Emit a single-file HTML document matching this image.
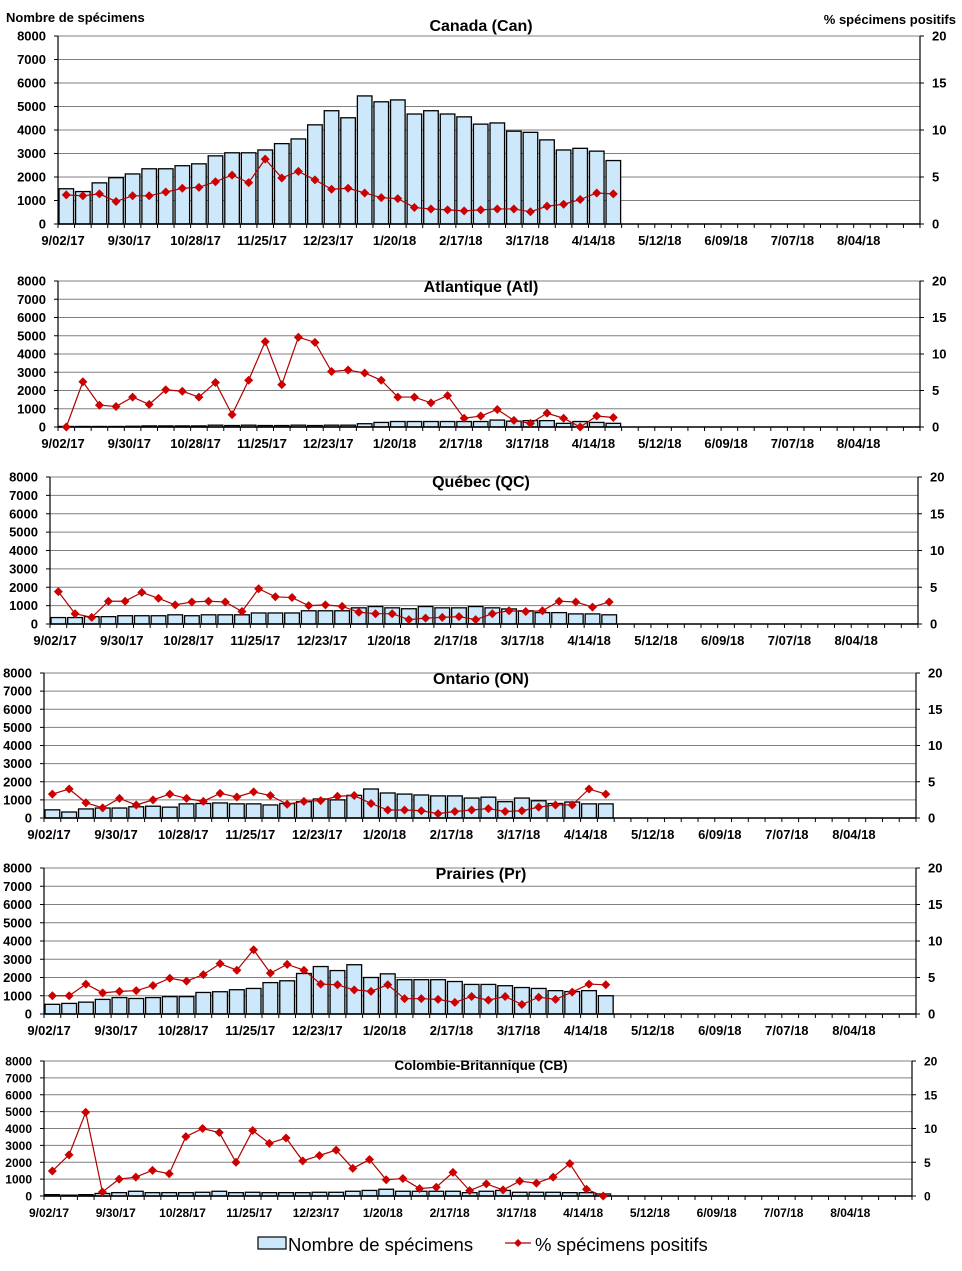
<!DOCTYPE html>
<html><head><meta charset="utf-8"><style>
body{margin:0;background:#fff;}
svg text{font-family:"Liberation Sans",Arial,sans-serif;}
</style></head><body>
<svg id="c" width="962" height="1266" xmlns="http://www.w3.org/2000/svg">
<text x="6" y="22" font-size="13" font-weight="bold">Nombre de spécimens</text>
<text x="956" y="24" font-size="13" font-weight="bold" text-anchor="end">% spécimens positifs</text>
<g>
<rect x="258" y="1237" width="28" height="12" fill="#cce8fa" stroke="#000" stroke-width="1.2"/>
<text x="288" y="1251" font-size="18.5">Nombre de spécimens</text>
<line x1="505" y1="1243" x2="531" y2="1243" stroke="#b00000" stroke-width="1.2"/>
<polygon points="518,1239 522,1243 518,1247 514,1243" fill="#cc0000"/>
<text x="535" y="1251" font-size="18.5">% spécimens positifs</text>
</g>
</svg>
<script>
const weekLabels = ["9/02/17","9/30/17","10/28/17","11/25/17","12/23/17","1/20/18","2/17/18","3/17/18","4/14/18","5/12/18","6/09/18","7/07/18","8/04/18"];
const leftTicks = [0,1000,2000,3000,4000,5000,6000,7000,8000];
const rightTicks = [0,5,10,15,20];
const regionTitles = ["Canada (Can)","Atlantique (Atl)","Québec (QC)","Ontario (ON)","Prairies (Pr)","Colombie-Britannique (CB)"];
const canBars = [1500,1380,1750,1970,2130,2350,2350,2480,2560,2900,3030,3030,3150,3420,3620,4220,4820,4520,5450,5200,5280,4680,4820,4680,4560,4250,4300,3950,3900,3580,3150,3220,3100,2700];
const canPct = [3.1,3.0,3.2,2.4,3.0,3.0,3.4,3.8,3.9,4.5,5.2,4.4,6.9,4.9,5.6,4.7,3.7,3.8,3.3,2.8,2.7,1.75,1.6,1.5,1.4,1.5,1.6,1.6,1.3,1.9,2.1,2.6,3.3,3.2];
const atlBars = [30,30,30,30,40,60,60,60,60,100,80,100,80,80,100,80,100,100,180,250,300,300,300,300,300,300,380,320,350,350,200,300,250,200];
const atlPct = [0,6.2,3.0,2.8,4.1,3.1,5.1,4.9,4.1,6.1,1.7,6.4,11.7,5.8,12.3,11.6,7.6,7.8,7.4,6.4,4.1,4.1,3.3,4.3,1.2,1.5,2.4,0.9,0.5,1.9,1.2,0,1.5,1.3];
const qcBars = [350,350,400,400,450,450,450,500,450,500,500,500,600,600,600,720,720,720,880,950,880,830,950,880,880,950,880,820,720,620,620,550,550,500];
const qcPct = [4.4,1.4,0.9,3.1,3.1,4.3,3.5,2.6,3.0,3.1,3.0,1.7,4.8,3.7,3.6,2.5,2.6,2.4,1.6,1.4,1.4,0.6,0.8,0.9,1.0,0.6,1.4,1.8,1.7,1.8,3.1,3.0,2.3,3.0];
const onBars = [450,330,500,550,550,620,650,600,780,800,830,780,780,720,800,900,1050,1000,1250,1600,1380,1320,1270,1220,1220,1100,1150,900,1100,950,800,880,780,780];
const onPct = [3.3,4.0,2.1,1.4,2.7,1.8,2.5,3.3,2.7,2.3,3.4,2.9,3.6,3.1,1.9,2.3,2.4,3.0,3.1,2.0,1.1,1.1,1.0,0.6,0.9,1.1,1.3,0.9,1.0,1.5,1.8,1.8,4.0,3.3];
const prBars = [530,580,650,800,900,850,900,950,950,1180,1220,1330,1400,1720,1820,2220,2600,2380,2700,2000,2200,1880,1880,1880,1780,1620,1620,1550,1450,1400,1280,1230,1280,1000];
const prPct = [2.5,2.5,4.1,2.9,3.1,3.2,3.9,4.9,4.5,5.4,6.9,6.0,8.8,5.6,6.8,6.0,4.1,4.0,3.3,3.1,4.0,2.1,2.1,2.0,1.6,2.4,1.9,2.4,1.3,2.3,2.0,3.0,4.1,4.0];
const cbBars = [80,50,80,150,200,280,200,200,200,220,280,200,220,200,200,200,220,220,280,330,400,280,280,280,280,200,280,330,220,220,220,200,200,120];
const cbPct = [3.7,6.1,12.4,0.6,2.5,2.8,3.8,3.3,8.8,10.0,9.4,5.0,9.7,7.8,8.6,5.2,6.0,6.8,4.1,5.4,2.4,2.6,1.1,1.3,3.5,0.8,1.8,0.9,2.2,1.9,2.8,4.8,1.0,0];

const barSets = [canBars,atlBars,qcBars,onBars,prBars,cbBars];
const pctSets = [canPct,atlPct,qcPct,onPct,prPct,cbPct];
const slugs = ["canada","atlantique","quebec","ontario","prairies","colombie-britannique"];
const geo = [
 {L:58,R:920,T:36,B:224,ty:31,xy:245,rx:932,fs:13,tfs:16},
 {L:58,R:920,T:281,B:427,ty:292,xy:448,rx:932,fs:13,tfs:16},
 {L:50,R:918,T:477,B:624,ty:487,xy:645,rx:930,fs:13,tfs:16},
 {L:44,R:916,T:673,B:818,ty:684,xy:839,rx:928,fs:13,tfs:16},
 {L:44,R:916,T:868,B:1014,ty:879,xy:1035,rx:928,fs:13,tfs:16},
 {L:44,R:912,T:1061,B:1196,ty:1070,xy:1217,rx:924,fs:12,tfs:13.5}
];
const NCAT = 52;
const svg = document.getElementById('c');
const NS = 'http://www.w3.org/2000/svg';
function mk(tag, attrs, parent){
  const e = document.createElementNS(NS, tag);
  for (const k in attrs) e.setAttribute(k, attrs[k]);
  (parent||svg).appendChild(e);
  return e;
}
geo.forEach((g, p) => {
  const grp = mk('g', {});
  
  
  const cw = (g.R - g.L) / NCAT;
  const xAt = i => g.L + i * cw;
  const yL = v => g.B - v / 8000 * (g.B - g.T);
  const yR = v => g.B - v / 20 * (g.B - g.T);
  leftTicks.forEach(v => {
    const y = yL(v);
    if (v > 0) {
      const gl = mk('line', {x1:g.L, x2:g.R, y1:y, y2:y, stroke:'#808080', 'stroke-width':1}, grp);
      
      
    }
    mk('line', {x1:g.L-4, x2:g.L, y1:y, y2:y, stroke:'#000'}, grp);
    const t = mk('text', {x:g.L-12, y:y+4.5, 'font-size':g.fs, 'font-weight':'bold', 'text-anchor':'end'}, grp);
    t.textContent = v;
    
    
  });
  rightTicks.forEach(v => {
    const y = yR(v);
    mk('line', {x1:g.R, x2:g.R+4, y1:y, y2:y, stroke:'#000'}, grp);
    const t = mk('text', {x:g.rx, y:y+4.5, 'font-size':g.fs, 'font-weight':'bold'}, grp);
    t.textContent = v;
    
    
  });
  const bars = barSets[p];
  bars.forEach((v, i) => {
    const y = yL(v);
    const r = mk('rect', {x:xAt(i)+1, y:y, width:cw-2, height:g.B-y, fill:'#cce8fa', stroke:'#000', 'stroke-width':1.3}, grp);
    
    
  });
  mk('line', {x1:g.L, x2:g.L, y1:g.T, y2:g.B, stroke:'#000', 'stroke-width':1.2}, grp);
  mk('line', {x1:g.R, x2:g.R, y1:g.T, y2:g.B, stroke:'#000', 'stroke-width':1.2}, grp);
  mk('line', {x1:g.L, x2:g.R, y1:g.B, y2:g.B, stroke:'#000', 'stroke-width':1.4}, grp);
  for (let i = 0; i <= NCAT; i++) mk('line', {x1:xAt(i), x2:xAt(i), y1:g.B, y2:g.B+4, stroke:'#000'}, grp);
  weekLabels.forEach((lab, k) => {
    const t = mk('text', {x:xAt(k*4)+5, y:g.xy, 'font-size':g.fs, 'font-weight':'bold', 'text-anchor':'middle'}, grp);
    t.textContent = lab;
    
    
  });
  const pct = pctSets[p];
  const pts = pct.map((v, i) => (xAt(i)+cw/2) + ',' + yR(v)).join(' ');
  const ln = mk('polyline', {points:pts, fill:'none', stroke:'#b00000', 'stroke-width':1.2}, grp);
  
  
  pct.forEach((v, i) => {
    const cx = xAt(i)+cw/2, cy = yR(v);
    const m = mk('polygon', {points:`${cx},${cy-4.5} ${cx+4.5},${cy} ${cx},${cy+4.5} ${cx-4.5},${cy}`, fill:'#cc0000'}, grp);
    
    
  });
  const tt = mk('text', {x:481, y:g.ty, 'font-size':g.tfs, 'font-weight':'bold', 'text-anchor':'middle'}, grp);
  tt.textContent = regionTitles[p];
  
  
});
</script>
</body></html>
